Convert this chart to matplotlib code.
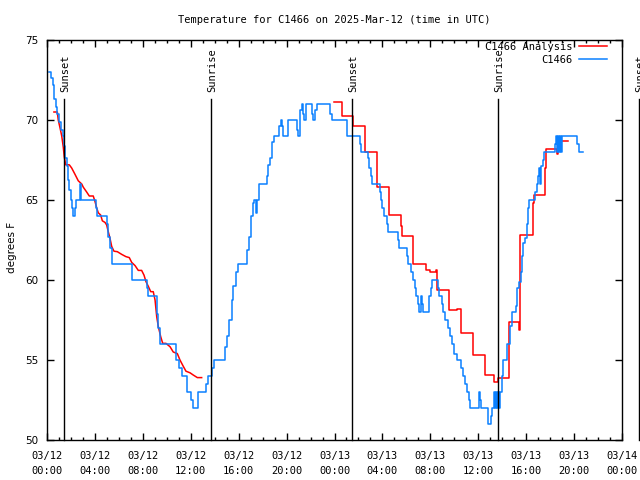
import matplotlib
matplotlib.use("Agg")
import matplotlib.pyplot as plt
import matplotlib.transforms as mtransforms
from datetime import datetime, timedelta

# hours after 2025-03-12 00:00 UTC
obs_hours = [0.19, 0.33, 0.48, 0.61, 0.73, 0.86, 1.00, 1.14, 1.31, 1.42, 1.50, 1.64, 1.78, 1.86, 1.98,
             2.05, 2.15, 2.30, 2.42, 2.75, 2.84, 4.05, 4.17, 4.98, 5.13, 5.26, 5.45, 7.07, 8.32, 8.46,
             9.16, 9.29, 9.43, 10.77, 11.06, 11.24, 11.66, 12.06, 12.21, 12.63, 13.31, 13.46, 13.81, 13.94,
             14.86, 15.00, 15.22, 15.42, 15.55, 15.78, 15.97, 16.67, 16.86, 17.03, 17.17, 17.28, 17.45,
             17.55, 17.72, 18.34, 18.47, 18.61, 18.81, 18.95, 19.37, 19.51, 19.64, 19.72, 20.14, 20.89,
             20.98, 21.12, 21.26, 21.39, 21.48, 21.62, 22.09, 22.23, 22.37, 22.51, 23.62, 23.76, 25.02,
             26.13, 26.18, 26.77, 26.88, 27.02, 27.10, 27.80, 27.85, 27.99, 28.13, 28.41, 28.49, 29.32,
             29.41, 30.03, 30.11, 30.38, 30.53, 30.72, 30.80, 30.94, 31.08, 31.19, 31.33, 31.41, 31.91,
             32.03, 32.11, 32.61, 32.70, 32.95, 33.03, 33.22, 33.45, 33.64, 33.81, 33.97, 34.20, 34.53,
             34.70, 34.89, 35.08, 35.25, 35.31, 36.09, 36.14, 36.23, 36.79, 36.84, 37.04, 37.12, 37.31,
             37.40, 37.48, 37.56, 37.65, 37.73, 37.81, 37.95, 38.09, 38.37, 38.65, 38.79, 39.15, 39.26,
             39.42, 39.54, 39.62, 39.76, 39.90, 40.04, 40.18, 40.26, 40.73, 40.88, 41.01, 41.07, 41.13,
             41.21, 41.38, 41.49, 42.40, 42.49, 42.57, 42.65, 42.74, 42.82, 42.90, 42.99, 44.27, 44.43,
             44.72]
obs_temp = [73.0, 72.6, 72.2, 71.3, 70.8, 70.4, 69.9, 69.4, 69.0, 68.4, 67.6, 67.1, 66.25, 65.6, 65.0,
            64.5, 64.0, 64.5, 65.0, 66.0, 65.0, 64.5, 64.0, 63.5, 62.7, 62.0, 61.0, 60.0, 59.5, 59.0,
            57.9, 57.0, 56.0, 55.0, 54.5, 54.0, 53.0, 52.5, 52.0, 53.0, 53.5, 54.0, 54.5, 55.0,
            55.8, 56.5, 57.5, 58.75, 59.6, 60.5, 61.0, 61.9, 62.7, 64.0, 64.8, 65.0, 64.2,
            65.0, 66.0, 66.5, 67.2, 67.6, 68.6, 69.0, 69.6, 70.0, 69.6, 69.0, 70.0, 69.4,
            69.0, 70.6, 71.0, 70.4, 70.0, 71.0, 70.4, 70.0, 70.6, 71.0, 70.4, 70.0, 69.0,
            68.5, 68.0, 67.6, 67.0, 66.5, 66.0, 65.5, 65.0, 64.5, 64.0, 63.5, 63.0, 62.5,
            62.0, 61.5, 61.0, 60.5, 60.0, 59.5, 59.0, 58.5, 58.0, 59.0, 58.5, 58.0, 59.0,
            59.5, 60.0, 59.5, 59.0, 58.5, 58.0, 57.5, 57.0, 56.5, 56.0, 55.4, 55.0, 54.5,
            54.0, 53.5, 53.0, 52.5, 52.0, 53.0, 52.5, 52.0, 51.5, 51.0, 51.5, 52.0, 53.0,
            52.0, 53.0, 52.0, 53.0, 52.0, 53.0, 54.0, 55.0, 56.0, 57.1, 58.0, 58.4, 59.5,
            59.9, 60.5, 61.5, 62.3, 62.6, 63.5, 64.5, 65.0, 65.5, 66.0, 66.5, 67.0, 66.0,
            67.1, 67.5, 68.0, 68.5, 69.0, 68.0, 69.0, 68.0, 69.0, 68.0, 69.0, 68.5, 68.0,
            68.0]

# analysis, first run (smooth)
ana1_hours = [0.58, 0.86, 0.94, 1.09, 1.23, 1.36, 1.44, 1.56, 1.86, 2.06, 2.34, 2.61, 2.90, 3.03,
              3.31, 3.53, 3.86, 4.01, 4.15, 4.28, 4.48, 4.62, 4.84, 4.98, 5.12, 5.26, 5.40, 5.59,
              5.87, 6.24, 6.59, 6.87, 7.07, 7.35, 7.62, 7.90, 8.10, 8.26, 8.46, 8.66, 8.87, 9.02,
              9.16, 9.29, 9.49, 9.66, 9.93, 10.27, 10.54, 10.88, 11.10, 11.38, 11.60, 11.94, 12.21,
              12.55, 12.91]
ana1_temp = [70.5, 70.5, 70.0, 69.5, 69.0, 68.3, 67.7, 67.2, 67.2, 67.0, 66.6, 66.2, 66.0, 65.8,
             65.5, 65.25, 65.25, 64.9, 64.5, 64.2, 64.06, 63.7, 63.6, 63.44, 63.0, 62.6, 62.1, 61.8,
             61.77, 61.6, 61.46, 61.4, 61.1, 60.9, 60.6, 60.6, 60.3, 59.9, 59.6, 59.27, 59.27, 58.75,
             57.7, 57.1, 56.46, 56.04, 56.04, 55.83, 55.5, 55.4, 55.0, 54.6, 54.3, 54.2, 54.06,
             53.9, 53.9]

# analysis, second run (stepped)
ana2_hours = [23.96, 24.60, 25.57, 26.54, 27.55, 28.57, 29.52, 29.61, 30.53, 31.61, 31.97, 32.47,
              32.55, 33.58, 34.20, 34.56, 35.58, 36.59, 37.29, 37.62, 38.59, 39.42, 39.52, 40.59,
              40.65, 41.59, 41.65, 42.55, 42.63, 43.52]
ana2_temp = [71.1, 70.25, 69.6, 68.0, 65.8, 64.06, 63.4, 62.75, 61.0, 60.6, 60.5, 60.6,
             59.4, 58.1, 58.2, 56.7, 55.3, 54.06, 53.6, 53.9, 57.4, 56.9, 62.8, 64.8,
             65.3, 67.0, 68.2, 67.9, 68.7, 68.7]

sun_hours = [1.42, 13.69, 25.46, 37.65, 49.4]
sun_names = ["Sunset", "Sunrise", "Sunset", "Sunrise", "Sunset"]

base = datetime(2025, 3, 12, 0, 0)
tick_hours = list(range(0, 49, 4))
tick_labels = [(base + timedelta(hours=h)).strftime("%m/%d\n%H:%M") for h in tick_hours]

red = "#ff0000"
blue = "#0a80ff"
mono = "DejaVu Sans Mono"

fig = plt.figure(figsize=(6.4, 4.8), dpi=100)
ax = fig.add_axes([47 / 640, 40 / 480, 575 / 640, 400 / 480])

ax.plot(ana1_hours, ana1_temp, color=red, lw=1.1, label="C1466 Analysis")
ax.plot(ana2_hours, ana2_temp, color=red, lw=1.1, drawstyle="steps-post")
ax.plot(obs_hours, obs_temp, color=blue, lw=1.1, drawstyle="steps-post", label="C1466")

trans = mtransforms.blended_transform_factory(ax.transData, ax.transAxes)
for h, name in zip(sun_hours, sun_names):
    ax.axvline(h, ymin=0, ymax=0.852, color="black", lw=1, clip_on=False)
    ax.text(h + 0.12, 0.87, name, transform=trans, rotation=90, ha="center", va="bottom",
            fontsize=7.5, family=mono, clip_on=False)

ax.set_xlim(0, 48)
ax.set_ylim(50, 75)
ax.set_xticks(tick_hours)
ax.set_xticks(range(0, 49), minor=True)
ax.set_xticklabels(tick_labels, family=mono, fontsize=7.5, linespacing=1.6)
ax.set_yticks(range(50, 76, 5))
ax.tick_params(direction="in", top=True, right=True, length=5, width=1, pad=6, labelsize=7.5)
ax.tick_params(axis="x", pad=8)
ax.tick_params(axis="x", which="minor", direction="in", top=True, length=2.5, width=1)
for s in ax.spines.values():
    s.set_linewidth(1)

ax.set_ylabel("degrees F", fontsize=7.5)
ax.yaxis.set_label_coords(-0.052, 0.482)

fig.text(334.5 / 640, 1 - 20 / 480, "Temperature for C1466 on 2025-Mar-12 (time in UTC)",
         ha="center", va="center", family=mono, fontsize=7.5)

ax.legend(loc="upper right", bbox_to_anchor=(0.978, 1.0), frameon=False, markerfirst=False,
          prop={"family": mono, "size": 7.5}, handlelength=2.7, handletextpad=0.6,
          labelspacing=0.25, borderpad=0.2, borderaxespad=0)

fig.savefig("out.png", dpi=100)
